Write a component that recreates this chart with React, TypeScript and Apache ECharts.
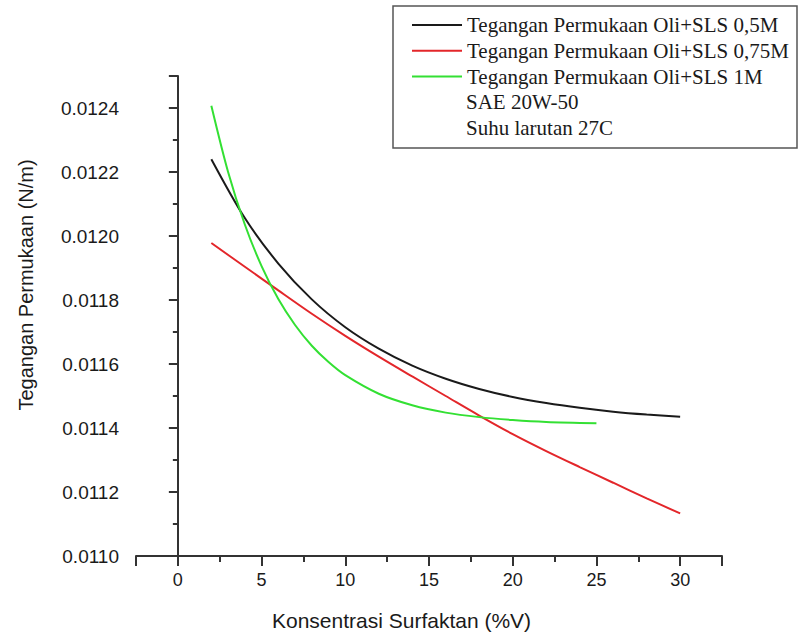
import React, { useEffect, useRef } from "react";
import * as echarts from "echarts";

const seriesNames = [
  "Tegangan Permukaan Oli+SLS 0,5M",
  "Tegangan Permukaan Oli+SLS 0,75M",
  "Tegangan Permukaan Oli+SLS 1M",
];
const extraLegendLines = ["SAE 20W-50", "Suhu larutan 27C"];

const xBlack = [2, 4, 6, 8, 10, 12, 14, 16, 18, 20, 22, 24, 26, 28, 30];
const yBlack = [
  0.01224, 0.012056, 0.011914, 0.011802, 0.011715, 0.011648, 0.011595, 0.011554,
  0.011522, 0.011497, 0.011478, 0.011463, 0.011451, 0.011442, 0.011435,
];

const xRed = [2, 4, 6, 8, 10, 12, 14, 16, 18, 20, 22, 24, 26, 28, 30];
const yRed = [
  0.011978, 0.011904, 0.01183, 0.011757, 0.011688, 0.011623, 0.011561, 0.0115,
  0.011439, 0.011381, 0.011328, 0.011278, 0.011229, 0.01118, 0.011133,
];

const xGreen = [2, 3, 4, 5, 6, 7, 8, 9, 10, 12, 14, 16, 18, 20, 22, 25];
const yGreen = [
  0.012407, 0.0122, 0.012036, 0.011906, 0.011803, 0.011722, 0.011657, 0.011606,
  0.011565, 0.011507, 0.011471, 0.011448, 0.011434, 0.011425, 0.011419, 0.011415,
];

const colors = ["#1a1a1a", "#e3262a", "#33e033"];

const xName = "Konsentrasi Surfaktan (%V)";
const yName = "Tegangan Permukaan (N/m)";

const zip = (xs: number[], ys: number[]) => xs.map((x, i) => [x, ys[i]]);

export default function App() {
  const ref = useRef<HTMLDivElement>(null);
  useEffect(() => {
    if (!ref.current) return;
    const chart = echarts.init(ref.current, undefined, { renderer: "svg" });
    const axisColor = "#333333";
    const textColor = "#1a1a1a";
    const sans = "Liberation Sans, Arial, sans-serif";
    const serif = "Liberation Serif, Times New Roman, serif";
    const grid = { left: 136, right: 79, top: 76, bottom: 78 };
    const rowH = 25.8;
    const firstRow = 25;
    const dataSets = [zip(xBlack, yBlack), zip(xRed, yRed), zip(xGreen, yGreen)];
    chart.setOption({
      animation: false,
      backgroundColor: "#ffffff",
      grid,
      xAxis: [
        {
          type: "value",
          min: -2.5,
          max: 32.5,
          splitNumber: 7,
          axisLine: { show: true, lineStyle: { color: axisColor, width: 2 } },
          axisTick: { show: true, inside: false, length: 10, lineStyle: { color: axisColor, width: 2 } },
          axisLabel: {
            margin: 15,
            fontSize: 18,
            fontFamily: sans,
            color: textColor,
            formatter: (v: number) => (Math.abs(v % 5) < 1e-6 ? String(v) : ""),
          },
          splitLine: { show: false },
        },
        {
          type: "value",
          position: "bottom",
          min: -2.5,
          max: 32.5,
          interval: 5,
          axisLine: { show: false },
          axisTick: { show: true, inside: false, length: 6, lineStyle: { color: axisColor, width: 2 } },
          axisLabel: { show: false },
          splitLine: { show: false },
        },
      ],
      yAxis: [
        {
          type: "value",
          min: 0.011,
          max: 0.0125,
          interval: 0.0002,
          axisLine: { show: true, lineStyle: { color: axisColor, width: 2 } },
          axisTick: { show: true, inside: false, length: 9, lineStyle: { color: axisColor, width: 2 } },
          axisLabel: {
            margin: 17,
            fontSize: 19,
            fontFamily: sans,
            color: textColor,
            formatter: (v: number) => (v > 0.01245 ? "" : v.toFixed(4)),
          },
          splitLine: { show: false },
        },
        {
          type: "value",
          position: "left",
          min: 0.011,
          max: 0.0125,
          interval: 0.0001,
          axisLine: { show: false },
          axisTick: { show: true, inside: false, length: 5, lineStyle: { color: axisColor, width: 2 } },
          axisLabel: { show: false },
          splitLine: { show: false },
        },
      ],
      legend: {
        orient: "vertical",
        left: 411,
        top: firstRow - 10.5,
        padding: 0,
        itemWidth: 50,
        itemHeight: 14,
        itemGap: rowH - 21,
        itemStyle: { color: "rgba(0,0,0,0)", borderColor: "rgba(0,0,0,0)", borderWidth: 0, opacity: 0 },
        textStyle: { fontFamily: serif, fontSize: 21, color: textColor },
        data: seriesNames,
        selectedMode: false,
      },
      series: seriesNames.map((name, i) => ({
        name,
        type: "line",
        data: dataSets[i],
        xAxisIndex: 0,
        yAxisIndex: 0,
        smooth: 0.3,
        symbol: "none",
        showSymbol: false,
        lineStyle: { color: colors[i], width: 2 },
        itemStyle: { color: colors[i] },
        z: 3,
      })),
      graphic: [
        {
          type: "rect",
          z: -1,
          shape: { x: 393, y: 6, width: 404, height: 142 },
          style: { fill: "#ffffff", stroke: "#555555", lineWidth: 1.5 },
        },
        ...extraLegendLines.map((t, i) => ({
          type: "text",
          x: 466,
          y: firstRow + rowH * (3 + i),
          style: {
            text: t,
            fontSize: 21,
            fontFamily: serif,
            fill: textColor,
            verticalAlign: "middle",
            align: "left",
          },
        })),
        {
          type: "text",
          x: 272,
          y: 620,
          style: {
            text: xName,
            fontSize: 21,
            fontFamily: sans,
            fill: textColor,
            verticalAlign: "middle",
            align: "left",
          },
        },
        {
          type: "text",
          x: 26,
          y: 285,
          rotation: Math.PI / 2,
          style: {
            text: yName,
            fontSize: 20,
            fontFamily: sans,
            fill: textColor,
            verticalAlign: "middle",
            align: "center",
          },
        },
      ],
    });
    return () => chart.dispose();
  }, []);
  return (
    <div
      ref={ref}
      style={{ position: "absolute", left: 0, top: 0, width: 801, height: 634 }}
    />
  );
}
